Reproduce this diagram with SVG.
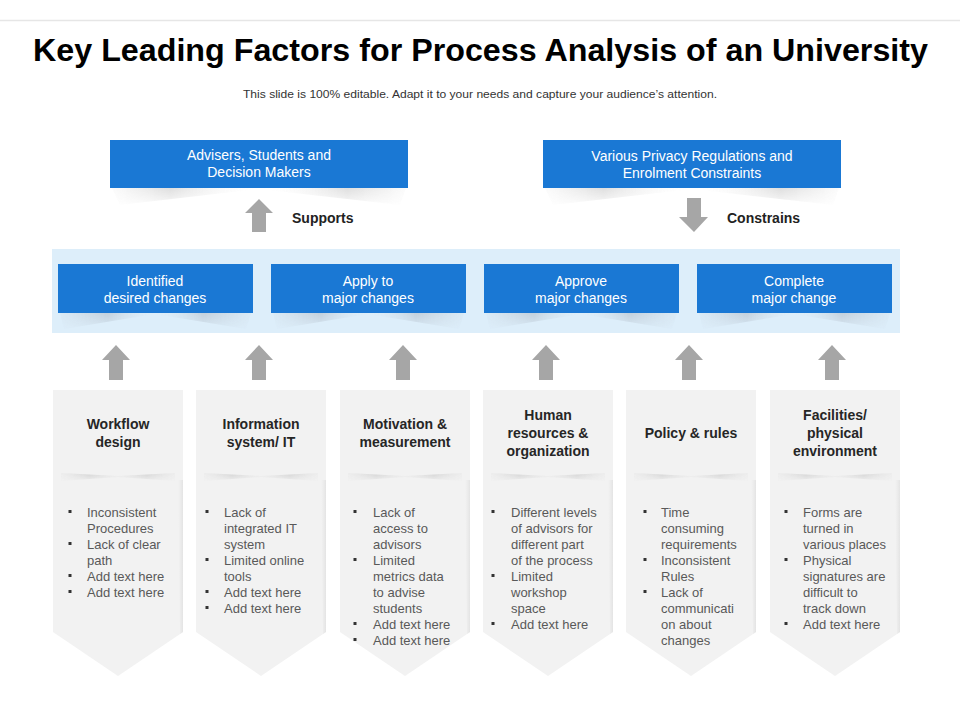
<svg xmlns="http://www.w3.org/2000/svg" width="960" height="720" viewBox="0 0 960 720">
<defs>
<style>
.title{font-family:"Liberation Sans",Arial,sans-serif;font-weight:bold;font-size:31px;fill:#000}
.sub{font-family:"Liberation Sans",Arial,sans-serif;font-size:11px;fill:#333}
.box{fill:#1a78d4}
.wt{font-family:"Liberation Sans",Arial,sans-serif;font-size:14px;fill:#fff;text-anchor:middle}
.lbl{font-family:"Liberation Sans",Arial,sans-serif;font-size:14px;font-weight:bold;fill:#222}
.arr{fill:#a6a6a6}
.col{fill:#f2f2f2}
.hd{font-family:"Liberation Sans",Arial,sans-serif;font-size:14px;font-weight:bold;fill:#262626;text-anchor:middle}
.bd{font-family:"Liberation Sans",Arial,sans-serif;font-size:13px;fill:#595959}
.bul{fill:#333}
</style>
<linearGradient id="vfade" x1="0" y1="0" x2="0" y2="1">
<stop offset="0" stop-color="#fff" stop-opacity="1"/>
<stop offset="1" stop-color="#fff" stop-opacity="0.15"/>
</linearGradient>
<mask id="fade" maskContentUnits="objectBoundingBox">
<rect width="1" height="1" fill="url(#vfade)"/>
</mask>
<linearGradient id="shd" x1="0" y1="0" x2="1" y2="0">
<stop offset="0" stop-color="#dadada" stop-opacity="0.1"/>
<stop offset="0.2" stop-color="#d6d6d6" stop-opacity="0.8"/>
<stop offset="0.5" stop-color="#ffffff" stop-opacity="0"/>
<stop offset="0.8" stop-color="#d6d6d6" stop-opacity="0.8"/>
<stop offset="1" stop-color="#dadada" stop-opacity="0.1"/>
</linearGradient>
<linearGradient id="shd2" x1="0" y1="0" x2="1" y2="0">
<stop offset="0" stop-color="#c4ced8" stop-opacity="0.1"/>
<stop offset="0.25" stop-color="#bcc8d4" stop-opacity="0.8"/>
<stop offset="0.5" stop-color="#ddeefa" stop-opacity="0"/>
<stop offset="0.75" stop-color="#bcc8d4" stop-opacity="0.8"/>
<stop offset="1" stop-color="#c4ced8" stop-opacity="0.1"/>
</linearGradient>
<linearGradient id="shd3" x1="0" y1="0" x2="1" y2="0">
<stop offset="0" stop-color="#dedede" stop-opacity="0.2"/>
<stop offset="0.25" stop-color="#d4d4d4" stop-opacity="1"/>
<stop offset="0.5" stop-color="#e6e6e6" stop-opacity="0.5"/>
<stop offset="0.75" stop-color="#d4d4d4" stop-opacity="1"/>
<stop offset="1" stop-color="#dedede" stop-opacity="0.2"/>
</linearGradient>
<linearGradient id="side" x1="0" y1="0" x2="1" y2="0">
<stop offset="0" stop-color="#e6e6e6" stop-opacity="0"/>
<stop offset="1" stop-color="#e0e0e0" stop-opacity="0.8"/>
</linearGradient>
<g id="colshape">
<path class="col" d="M0,0 H130 V242 L65,286 L0,242 Z"/>
<path fill="url(#side)" d="M125,90 H130 V242 L127,244 Z"/>
<path fill="url(#shd3)" mask="url(#fade)" d="M8,83 L65,86 L122,83 L122,91 L65,87 L8,91 Z"/>
</g>
</defs>
<rect width="960" height="720" fill="#fff"/>
<line x1="0" y1="20.5" x2="960" y2="20.5" stroke="#e6e6e6" stroke-width="1.5"/>
<text class="title" x="33" y="61" textLength="895" lengthAdjust="spacingAndGlyphs">Key Leading Factors for Process Analysis of an University</text>
<text class="sub" x="243" y="98" textLength="474" lengthAdjust="spacingAndGlyphs">This slide is 100% editable. Adapt it to your needs and capture your audience’s attention.</text>

<g id="connectors">
<path class="arr" d="M259,199 L273,213 L266,213 L266,232 L252,232 L252,213 L245,213 Z"/>
<path class="arr" d="M694,232 L708,217 L701,217 L701,198 L687,198 L687,217 L679,217 Z"/>
<path class="arr" d="M116,345 L130,360 L123,360 L123,380 L109,380 L109,360 L102,360 Z"/>
<path class="arr" d="M259,345 L273,360 L266,360 L266,380 L252,380 L252,360 L245,360 Z"/>
<path class="arr" d="M403,345 L417,360 L410,360 L410,380 L396,380 L396,360 L389,360 Z"/>
<path class="arr" d="M546,345 L560,360 L553,360 L553,380 L539,380 L539,360 L532,360 Z"/>
<path class="arr" d="M689,345 L703,360 L696,360 L696,380 L682,380 L682,360 L675,360 Z"/>
<path class="arr" d="M832,345 L846,360 L839,360 L839,380 L825,380 L825,360 L818,360 Z"/>
<text class="lbl" x="292" y="223">Supports</text>
<text class="lbl" x="727" y="223">Constrains</text>
</g>

<g id="top-left">
<path fill="url(#shd)" mask="url(#fade)" d="M112,188 H406 L400,205 L259,189 L120,205 Z"/>
<rect class="box" x="110" y="140" width="298" height="48"/>
<text class="wt" x="259" y="160">Advisers, Students and</text>
<text class="wt" x="259" y="177">Decision Makers</text>
</g>
<g id="top-right">
<path fill="url(#shd)" mask="url(#fade)" d="M545,188 H839 L833,205 L692,189 L553,205 Z"/>
<rect class="box" x="543" y="140" width="298" height="48"/>
<text class="wt" x="692" y="161">Various Privacy Regulations and</text>
<text class="wt" x="692" y="178">Enrolment Constraints</text>
</g>

<rect id="band" x="52" y="249" width="848" height="84" fill="#ddeefa"/>
<g id="step1">
<path fill="url(#shd2)" mask="url(#fade)" d="M60,313 H251 L246,329 L155,314 L64,329 Z"/>
<rect class="box" x="58" y="264" width="195" height="49"/>
<text class="wt" x="155" y="286">Identified</text>
<text class="wt" x="155" y="303">desired changes</text>
</g>
<g id="step2">
<path fill="url(#shd2)" mask="url(#fade)" d="M273,313 H464 L459,329 L368,314 L277,329 Z"/>
<rect class="box" x="271" y="264" width="195" height="49"/>
<text class="wt" x="368" y="286">Apply to</text>
<text class="wt" x="368" y="303">major changes</text>
</g>
<g id="step3">
<path fill="url(#shd2)" mask="url(#fade)" d="M486,313 H677 L672,329 L581,314 L490,329 Z"/>
<rect class="box" x="484" y="264" width="195" height="49"/>
<text class="wt" x="581" y="286">Approve</text>
<text class="wt" x="581" y="303">major changes</text>
</g>
<g id="step4">
<path fill="url(#shd2)" mask="url(#fade)" d="M699,313 H890 L885,329 L794,314 L703,329 Z"/>
<rect class="box" x="697" y="264" width="195" height="49"/>
<text class="wt" x="794" y="286">Complete</text>
<text class="wt" x="794" y="303">major change</text>
</g>

<g id="col1">
<use href="#colshape" x="53" y="390"/>
<text class="hd" x="118" y="429">Workflow</text>
<text class="hd" x="118" y="447">design</text>
<rect class="bul" x="68.5" y="510" width="3" height="3"/>
<rect class="bul" x="68.5" y="542" width="3" height="3"/>
<rect class="bul" x="68.5" y="574" width="3" height="3"/>
<rect class="bul" x="68.5" y="590" width="3" height="3"/>
<text class="bd" x="87" y="517">Inconsistent</text>
<text class="bd" x="87" y="533">Procedures</text>
<text class="bd" x="87" y="549">Lack of clear</text>
<text class="bd" x="87" y="565">path</text>
<text class="bd" x="87" y="581">Add text here</text>
<text class="bd" x="87" y="597">Add text here</text>
</g>
<g id="col2">
<use href="#colshape" x="196" y="390"/>
<text class="hd" x="261" y="429">Information</text>
<text class="hd" x="261" y="447">system/ IT</text>
<rect class="bul" x="205.5" y="510" width="3" height="3"/>
<rect class="bul" x="205.5" y="558" width="3" height="3"/>
<rect class="bul" x="205.5" y="590" width="3" height="3"/>
<rect class="bul" x="205.5" y="606" width="3" height="3"/>
<text class="bd" x="224" y="517">Lack of</text>
<text class="bd" x="224" y="533">integrated IT</text>
<text class="bd" x="224" y="549">system</text>
<text class="bd" x="224" y="565">Limited online</text>
<text class="bd" x="224" y="581">tools</text>
<text class="bd" x="224" y="597">Add text here</text>
<text class="bd" x="224" y="613">Add text here</text>
</g>
<g id="col3">
<use href="#colshape" x="340" y="390"/>
<text class="hd" x="405" y="429">Motivation &amp;</text>
<text class="hd" x="405" y="447">measurement</text>
<rect class="bul" x="353.5" y="510" width="3" height="3"/>
<rect class="bul" x="353.5" y="558" width="3" height="3"/>
<rect class="bul" x="353.5" y="622" width="3" height="3"/>
<rect class="bul" x="353.5" y="638" width="3" height="3"/>
<text class="bd" x="373" y="517">Lack of</text>
<text class="bd" x="373" y="533">access to</text>
<text class="bd" x="373" y="549">advisors</text>
<text class="bd" x="373" y="565">Limited</text>
<text class="bd" x="373" y="581">metrics data</text>
<text class="bd" x="373" y="597">to advise</text>
<text class="bd" x="373" y="613">students</text>
<text class="bd" x="373" y="629">Add text here</text>
<text class="bd" x="373" y="645">Add text here</text>
</g>
<g id="col4">
<use href="#colshape" x="483" y="390"/>
<text class="hd" x="548" y="420">Human</text>
<text class="hd" x="548" y="438">resources &amp;</text>
<text class="hd" x="548" y="456">organization</text>
<rect class="bul" x="491.5" y="510" width="3" height="3"/>
<rect class="bul" x="491.5" y="574" width="3" height="3"/>
<rect class="bul" x="491.5" y="622" width="3" height="3"/>
<text class="bd" x="511" y="517">Different levels</text>
<text class="bd" x="511" y="533">of advisors for</text>
<text class="bd" x="511" y="549">different part</text>
<text class="bd" x="511" y="565">of the process</text>
<text class="bd" x="511" y="581">Limited</text>
<text class="bd" x="511" y="597">workshop</text>
<text class="bd" x="511" y="613">space</text>
<text class="bd" x="511" y="629">Add text here</text>
</g>
<g id="col5">
<use href="#colshape" x="626" y="390"/>
<text class="hd" x="691" y="438">Policy &amp; rules</text>
<rect class="bul" x="643.5" y="510" width="3" height="3"/>
<rect class="bul" x="643.5" y="558" width="3" height="3"/>
<rect class="bul" x="643.5" y="590" width="3" height="3"/>
<text class="bd" x="661" y="517">Time</text>
<text class="bd" x="661" y="533">consuming</text>
<text class="bd" x="661" y="549">requirements</text>
<text class="bd" x="661" y="565">Inconsistent</text>
<text class="bd" x="661" y="581">Rules</text>
<text class="bd" x="661" y="597">Lack of</text>
<text class="bd" x="661" y="613">communicati</text>
<text class="bd" x="661" y="629">on about</text>
<text class="bd" x="661" y="645">changes</text>
</g>
<g id="col6">
<use href="#colshape" x="770" y="390"/>
<text class="hd" x="835" y="420">Facilities/</text>
<text class="hd" x="835" y="438">physical</text>
<text class="hd" x="835" y="456">environment</text>
<rect class="bul" x="784.5" y="510" width="3" height="3"/>
<rect class="bul" x="784.5" y="558" width="3" height="3"/>
<rect class="bul" x="784.5" y="622" width="3" height="3"/>
<text class="bd" x="803" y="517">Forms are</text>
<text class="bd" x="803" y="533">turned in</text>
<text class="bd" x="803" y="549">various places</text>
<text class="bd" x="803" y="565">Physical</text>
<text class="bd" x="803" y="581">signatures are</text>
<text class="bd" x="803" y="597">difficult to</text>
<text class="bd" x="803" y="613">track down</text>
<text class="bd" x="803" y="629">Add text here</text>
</g>
</svg>
